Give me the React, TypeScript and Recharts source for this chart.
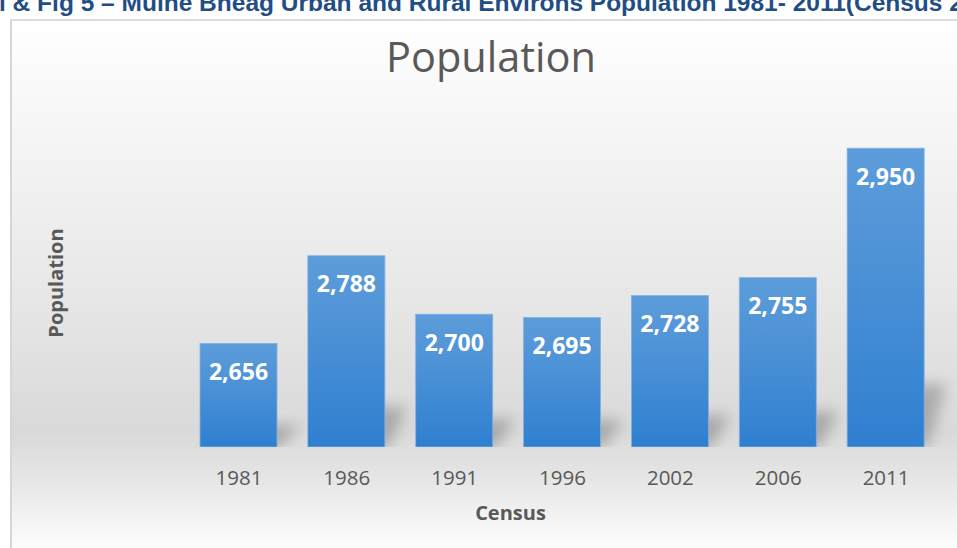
import React from 'react';
import { BarChart, Bar, XAxis, YAxis, LabelList } from 'recharts';

const years = ['1981', '1986', '1991', '1996', '2002', '2006', '2011'];
const population = [2656, 2788, 2700, 2695, 2728, 2755, 2950];
const yDomain = [2500, 3000];

const data = years.map((y, i) => ({ year: y, pop: population[i] }));

const FONT = '"Open Sans", "DejaVu Sans", sans-serif';
const GREY = '#595959';

function fmt(v: any) {
  return Number(v).toLocaleString('en-US');
}

// bar with a soft perspective shadow behind its lower right corner
function ShadowBar(p: any) {
  const { x, y, width, height } = p;
  if (!height) return null;
  const b = y + height;
  const sh = Math.min(64, height * 0.21);
  const pts = [
    [x + width * 0.5, b],
    [x + width + 4, b],
    [x + width + 22, b - sh],
    [x + width * 0.5 + 18, b - sh],
  ].map(q => q.join(',')).join(' ');
  return (
    <g>
      <polygon points={pts} fill="#000" opacity={0.22} filter="url(#shBlur)" />
      <rect x={x} y={y} width={width} height={height} fill="url(#barGrad)" stroke="#7fb2e4" strokeWidth={0.8} />
    </g>
  );
}

export default function App() {
  return (
    <div style={{ position: 'fixed', left: 0, top: 0, width: 957, height: 548, overflow: 'hidden', background: '#fff' }}>
      <div
        style={{
          position: 'absolute', left: 10, top: 19, width: 960, height: 540,
          borderLeft: '2px solid #d6d6d6', borderTop: '2px solid #dcdcdc',
          background: 'linear-gradient(to bottom, #ffffff 0%, #f2f2f2 28%, #e6e6e6 53%, #d9d9d9 76%, #e6e6e6 85%, #fcfcfc 97%, #ffffff 100%)',
        }}
      />
      <div style={{ position: 'absolute', left: 0, top: 0 }}>
        <BarChart width={957} height={548} data={data} margin={{ top: 115, right: 17, left: 0, bottom: 51 }}>
          <defs>
            <linearGradient id="barGrad" x1="0" y1="0" x2="0" y2="1">
              <stop offset="0%" stopColor="#5c9cda" />
              <stop offset="35%" stopColor="#4f93d7" />
              <stop offset="100%" stopColor="#2f7fd0" />
            </linearGradient>
            <filter id="shBlur" x="-50%" y="-50%" width="200%" height="200%">
              <feGaussianBlur stdDeviation="7" />
            </filter>
          </defs>
          <XAxis
            dataKey="year"
            height={50}
            axisLine={false}
            tickLine={false}
            tickMargin={17}
            tick={{ fill: GREY, fontSize: 20.5, fontFamily: FONT }}
            label={{
              content: ({ viewBox }: any) => (
                <text x={viewBox.x + viewBox.width / 2 - 52} y={viewBox.y + viewBox.height + 23}
                  textAnchor="middle" fill={GREY} fontSize={20} fontWeight={700} fontFamily={FONT}>Census</text>
              ),
            }}
          />
          <YAxis
            width={185}
            domain={yDomain}
            allowDataOverflow
            tick={false}
            axisLine={false}
            tickLine={false}
            label={{
              content: ({ viewBox }: any) => {
                const cx = 63;
                const cy = viewBox.y + viewBox.height / 2 + 2;
                return (
                  <text x={cx} y={cy} transform={`rotate(-90, ${cx}, ${cy})`} textAnchor="middle"
                    fill={GREY} fontSize={20} fontWeight={700} fontFamily={FONT}>Population</text>
                );
              },
            }}
          />
          <Bar dataKey="pop" barSize={77} shape={ShadowBar} isAnimationActive={false}>
            <LabelList dataKey="pop" position="insideTop" offset={20} formatter={fmt}
              fill="#fff" fontSize={23} fontWeight={700} fontFamily={FONT} />
          </Bar>
        </BarChart>
      </div>
      <svg width={957} height={548} style={{ position: 'absolute', left: 0, top: 0, pointerEvents: 'none' }}>
        <text x={-1} y={11} fill="#1F4E85" fontSize={24.5} fontWeight={700} fontFamily='"Liberation Sans", Arial, sans-serif'>
          l &amp; Fig 5 – Muine Bheag Urban and Rural Environs Population 1981- 2011(Census 2011)
        </text>
        <text x={491} y={72} textAnchor="middle" fill={GREY} fontSize={41.5} fontFamily={FONT}>Population</text>
      </svg>
    </div>
  );
}
